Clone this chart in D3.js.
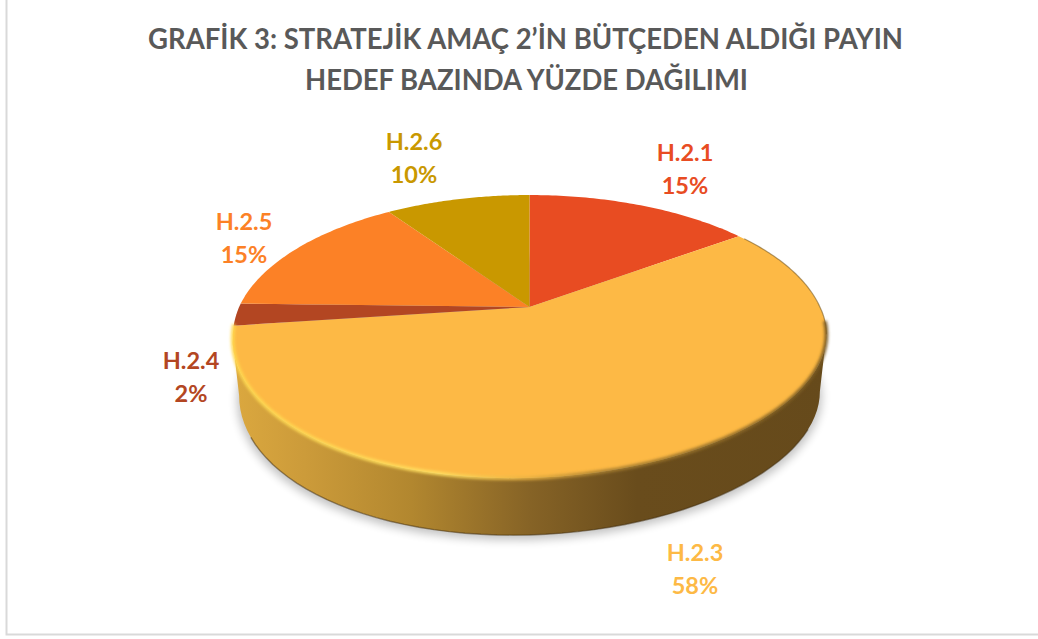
<!DOCTYPE html>
<html><head><meta charset="utf-8">
<script src="https://cdn.jsdelivr.net/npm/d3@7/dist/d3.min.js"></script>
<style>html,body{margin:0;padding:0;background:#fff}svg{display:block}text{font-family:Lato,"Open Sans",sans-serif;font-weight:700}</style>
</head><body><svg id="c" width="1038" height="639"></svg>
<script>
const categories = ["H.2.1","H.2.3","H.2.4","H.2.5","H.2.6"];
const values = [15, 58, 2.4, 15, 9.6];
const percentLabels = ["15%","58%","2%","15%","10%"];
const colors = ["#E84C22","#FDB945","#B34622","#FC8126","#C99800"];
const labelX = [685,695,191,244,414];
const labelY = [161,561,369,230,150];
const titleLines = ["GRAFİK 3: STRATEJİK AMAÇ 2’İN BÜTÇEDEN ALDIĞI PAYIN","HEDEF BAZINDA YÜZDE DAĞILIMI"];

const svg = d3.select("#c");
const defs = svg.append("defs");
const cx=529.5, cy=307, R=290.4, a=135.3, c=-0.2085, depth=57, skew=10;
const proj = (ang,r=1,dy=0,shrink=1)=>{
  const u=Math.sin(ang)*r,v=-Math.cos(ang)*r,w=1+c*v;
  return [cx+R*shrink*u/w, cy+a*v/w+dy-skew*u*Math.max(0,v)];
};
const line = d3.line();
const arcPts=(a0,a1,dy=0,sh=1)=>d3.range(0,61).map(i=>proj(a0+(a1-a0)*i/60,1,dy,sh));

// frame
svg.append("path").attr("d","M6.5,0V634.5H1038").attr("fill","none").attr("stroke","#d9d9d9").attr("stroke-width",2);

// defs
const wallG=defs.append("linearGradient").attr("id","wall").attr("gradientUnits","userSpaceOnUse")
 .attr("x1",233).attr("x2",827).attr("y1",0).attr("y2",0);
[[0,"#DBA83F"],[0.12,"#CC9B3A"],[0.3,"#B2872F"],[0.5,"#866326"],[0.68,"#694C1C"],[1,"#664A1B"]]
 .forEach(s=>wallG.append("stop").attr("offset",s[0]).attr("stop-color",s[1]));
const bev=defs.append("linearGradient").attr("id","bev").attr("gradientUnits","userSpaceOnUse")
 .attr("x1",233).attr("x2",827).attr("y1",0).attr("y2",0);
[[0,"#FFD84E"],[0.35,"#FFDF60"],[0.5,"#E8B040"],[0.62,"#A98030"],[1,"#7A5A20"]]
 .forEach(s=>bev.append("stop").attr("offset",s[0]).attr("stop-color",s[1]));
defs.append("filter").attr("id","b1").attr("x","-5%").attr("y","-5%").attr("width","110%").attr("height","110%")
 .append("feGaussianBlur").attr("stdDeviation",1.4);
defs.append("filter").attr("id","b2").attr("x","-10%").attr("y","-10%").attr("width","120%").attr("height","120%")
 .append("feGaussianBlur").attr("stdDeviation",5);
defs.append("filter").attr("id","b3").attr("x","-5%").attr("y","-5%").attr("width","110%").attr("height","110%")
 .append("feGaussianBlur").attr("stdDeviation",.6);

// shadow
svg.append("path").attr("d",line(arcPts(0,2*Math.PI,depth+5,0.985))+"Z").attr("fill","#000").attr("opacity",.24).attr("filter","url(#b2)");

// wall: swept outline between the rim and its lowered copy
const aR=102*Math.PI/180, aL=258*Math.PI/180;
const rim=arcPts(aR,aL), low=arcPts(aR,aL,depth,0.978);
svg.append("path").attr("d",line(rim.concat(low.slice().reverse()))+"Z").attr("fill","url(#wall)");
svg.append("path").attr("d",line(low.slice(6,55))).attr("fill","none").attr("stroke","#3f2c0c").attr("stroke-width",1.4).attr("opacity",.5).attr("filter","url(#b3)");

// slices
const pie=d3.pie().sort(null).value(d=>d)(values);
svg.selectAll("path.s").data(pie).join("path").attr("class","s")
 .attr("d",d=>line([[cx,cy]].concat(arcPts(d.startAngle,d.endAngle)))+"Z")
 .attr("fill",(d,i)=>colors[i]);

// bevel on the H.2.3 rim
const big=pie[1];
svg.append("path").attr("d",line(arcPts(aR-0.1,big.endAngle+0.01)))
 .attr("fill","none").attr("stroke","url(#bev)").attr("stroke-width",3.5).attr("filter","url(#b1)");
svg.append("path").attr("d",line(arcPts(big.startAngle+0.03,aR)))
 .attr("fill","none").attr("stroke","#7a5a20").attr("stroke-width",1.2).attr("opacity",.6).attr("filter","url(#b3)");

// labels
const lab=svg.selectAll("g.l").data(categories).join("g").attr("class","l")
 .attr("text-anchor","middle").attr("font-size",23.5).attr("fill",(d,i)=>colors[i]);
lab.append("text").attr("x",(d,i)=>labelX[i]).attr("y",(d,i)=>labelY[i]).text(d=>d);
lab.append("text").attr("x",(d,i)=>labelX[i]).attr("y",(d,i)=>labelY[i]+33).text((d,i)=>percentLabels[i]);

// title
const tw=[755,443], ty=[48.5,90];
svg.selectAll("text.t").data(titleLines).join("text").attr("class","t")
 .attr("x",(d,i)=>i?526.5:525.5).attr("y",(d,i)=>ty[i]).attr("text-anchor","middle")
 .attr("font-size",28.5).attr("fill","#595959").attr("textLength",(d,i)=>tw[i]).attr("lengthAdjust","spacingAndGlyphs").text(d=>d);
</script></body></html>
